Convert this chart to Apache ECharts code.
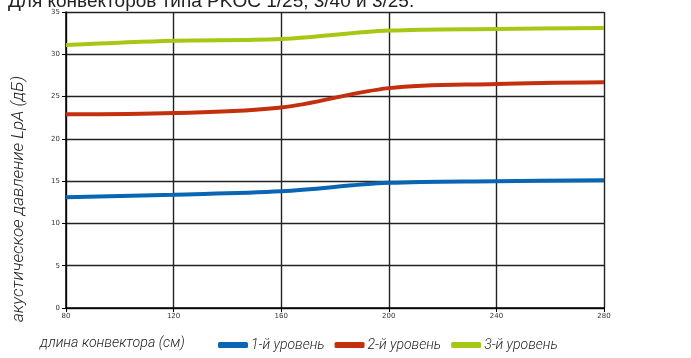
<!DOCTYPE html>
<html><head><meta charset="utf-8">
<script src="https://cdn.jsdelivr.net/npm/echarts@6/dist/echarts.min.js"></script>
<style>html,body{margin:0;padding:0;background:#fff}#c{width:691px;height:358px}</style>
</head><body><div id="c"></div>
<script>
const lengths = [80, 120, 160, 200, 240, 280];
const level1 = [13.1, 13.4, 13.8, 14.8, 15.0, 15.1];
const level2 = [22.9, 23.05, 23.7, 26.0, 26.5, 26.7];
const level3 = [31.1, 31.6, 31.8, 32.8, 33.0, 33.1];
const seriesNames = ['1-й уровень', '2-й уровень', '3-й уровень'];
const colors = ['#0a66b2', '#c4300e', '#a6c815'];
const titleText = 'Для конвекторов типа PKOC 1/25, 3/40 и 3/25.';
const xTitle = 'длина конвектора (см)';
const yTitle = 'акустическое давление LpA (дБ)';

const chart = echarts.init(document.getElementById('c'));
const mk = (name, vals, i) => ({
  name, type: 'line', smooth: 0.35, symbol: 'none',
  data: lengths.map((x, k) => [x, vals[k]]),
  lineStyle: { color: colors[i], width: 4 }, itemStyle: { color: colors[i] }
});
chart.setOption({
  animation: false,
  grid: { left: 66, right: 87, top: 12, bottom: 50 },
  xAxis: {
    type: 'value', min: 80, max: 280, interval: 40,
    axisLine: { lineStyle: { color: '#000', width: 1.5 } },
    axisTick: { show: true, length: 4, lineStyle: { color: '#000' } },
    axisLabel: { fontSize: 7, color: '#333', margin: 5, fontFamily: 'DejaVu Sans' },
    splitLine: { show: true, lineStyle: { color: '#222', width: 1.4 } }
  },
  yAxis: {
    type: 'value', min: 0, max: 35, interval: 5,
    axisLine: { show: true, lineStyle: { color: '#000', width: 1.5 } },
    axisTick: { show: true, length: 4, lineStyle: { color: '#000' } },
    axisLabel: { fontSize: 7, color: '#333', margin: 6, fontFamily: 'DejaVu Sans' },
    splitLine: { show: true, lineStyle: { color: '#222', width: 1.4 } }
  },
  legend: {
    left: 213, top: 333, itemWidth: 30, itemHeight: 6, itemGap: 10,
    icon: 'roundRect',
    textStyle: { fontSize: 14, fontStyle: 'italic', fontWeight: 300, color: '#222', fontFamily: 'Roboto', padding: [0, 0, 0, -2] },
    data: seriesNames
  },
  graphic: [
    { type: 'text', left: 8, top: -8, style: { text: titleText, fontSize: 19, fill: '#222', fontFamily: 'Liberation Sans' } },
    { type: 'text', left: 40, top: 336, style: { text: xTitle, fontSize: 14.2, fontStyle: 'italic', fontWeight: 300, fill: '#222', fontFamily: 'Roboto' } },
    { type: 'text', x: 19, y: 199, rotation: Math.PI / 2, style: { text: yTitle, fontSize: 17, fontStyle: 'italic', fontWeight: 300, fill: '#222', fontFamily: 'Roboto', textAlign: 'center', textVerticalAlign: 'middle' } }
  ],
  series: [mk(seriesNames[0], level1, 0), mk(seriesNames[1], level2, 1), mk(seriesNames[2], level3, 2)]
});
</script></body></html>
